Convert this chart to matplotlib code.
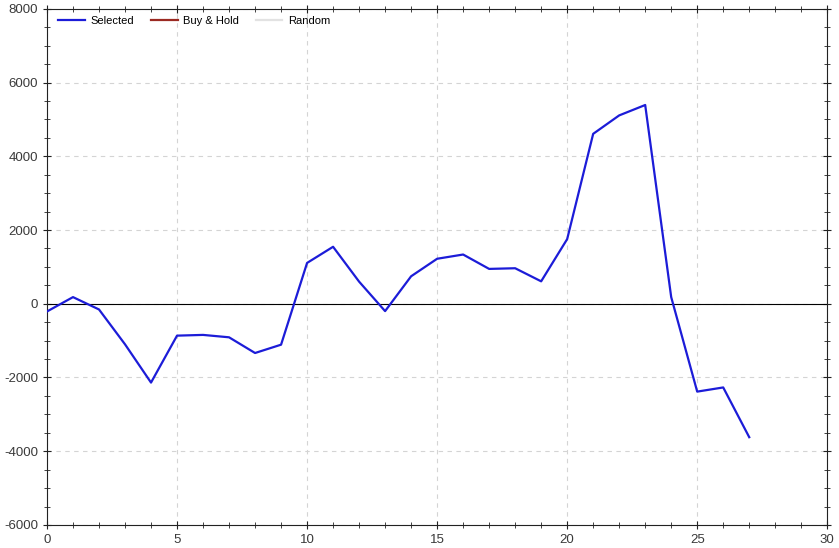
import matplotlib
matplotlib.use("Agg")
import matplotlib.pyplot as plt
from matplotlib.ticker import MultipleLocator

plt.rcParams["font.family"] = ["Liberation Sans", "DejaVu Sans"]
plt.rcParams["axes.unicode_minus"] = False

# 各期累计收益
periods = list(range(28))
selected = [-210, 180, -155, -1100, -2138, -865, -845, -910, -1336, -1110,
            1107, 1545, 600, -200, 745, 1220, 1335, 945, 963, 608,
            1753, 4608, 5108, 5390, 180, -2383, -2270, -3619]
legend_labels = ["Selected", "Buy & Hold", "Random"]

X_MIN, X_MAX = 0, 30
Y_MIN, Y_MAX = -6000, 8000

fig = plt.figure(figsize=(8.39, 5.48), dpi=100)
ax = fig.add_axes([0.056, 0.042, 0.930, 0.942])

ax.plot(periods, selected, color="#1c1cd8", linewidth=1.6, label=legend_labels[0], zorder=3)
ax.plot([], [], color="#9b2a22", linewidth=1.6, label=legend_labels[1])
ax.plot([], [], color="#e2e2e2", linewidth=1.6, label=legend_labels[2])
ax.axhline(0, color="black", linewidth=0.8, zorder=2)

ax.set_xlim(X_MIN, X_MAX)
ax.set_ylim(Y_MIN, Y_MAX)
ax.xaxis.set_major_locator(MultipleLocator(5))
ax.xaxis.set_minor_locator(MultipleLocator(1))
ax.yaxis.set_major_locator(MultipleLocator(2000))
ax.yaxis.set_minor_locator(MultipleLocator(500))

ax.set_axisbelow(True)
ax.grid(True, which="major", color="#d4d4d4", linestyle=(0, (4, 4)), linewidth=0.8)
ax.tick_params(which="both", direction="inout", top=True, right=True,
               labelsize=9.5, labelcolor="#3a3a3a", color="#222222")
ax.tick_params(which="major", length=6)
ax.tick_params(which="minor", length=4)
for sp in ax.spines.values():
    sp.set_color("#222222")
    sp.set_linewidth(0.8)

ax.legend(loc="upper left", bbox_to_anchor=(0.006, 0.999), ncol=3,
          frameon=False, fontsize=8, handlelength=2.4, handletextpad=0.5,
          columnspacing=1.5, borderaxespad=0.2)

fig.savefig("out.png", dpi=100)
